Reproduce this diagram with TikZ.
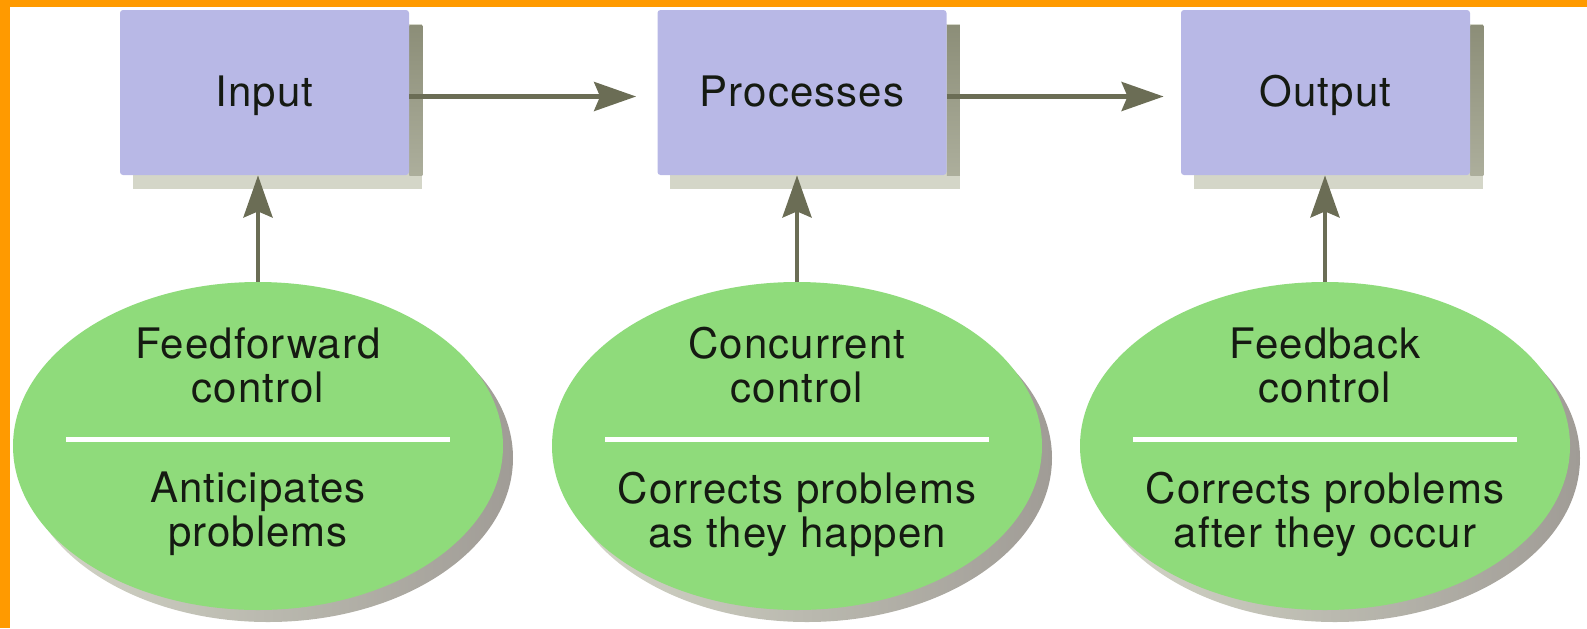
\documentclass[tikz,border=0pt]{standalone}
\usepackage{fontspec}
\setmainfont{TeX Gyre Heros}[LetterSpace=2.5]
\usetikzlibrary{shapes.geometric,arrows.meta,backgrounds}

\definecolor{boxfill}{HTML}{B8B8E6}
\definecolor{ellfill}{HTML}{8FDB7B}
\definecolor{arrowcol}{HTML}{6B6D55}
\definecolor{frameorange}{HTML}{FF9A00}
\definecolor{shadelight}{HTML}{D4D6C8}
\definecolor{shadedark}{HTML}{8C8E78}
\definecolor{ellshade}{HTML}{A09C96}
\definecolor{textcol}{HTML}{151A12}

\tikzset{
  stage/.style={rectangle, fill=boxfill, rounded corners=1.5pt, minimum width=144.5pt,
    minimum height=82.5pt, inner sep=0pt, text height=18pt, text depth=4pt,
    font=\fontsize{21}{22}\selectfont, text=textcol},
  control/.style={ellipse, fill=ellfill, minimum width=245pt, minimum height=164pt, inner sep=0pt},
  ctltext/.style={align=center, font=\fontsize{21}{22}\selectfont, text=textcol, inner sep=0pt},
  flow/.style={->, line width=2.2pt, draw=arrowcol},
}

\begin{document}
\begin{tikzpicture}[x=0.5pt, y=-0.5pt, >={Stealth[length=21pt,width=14.5pt,inset=3pt]}]
\useasboundingbox (0,0) rectangle (1587,628);
\fill[frameorange] (0,0) rectangle (1587,7);
\fill[frameorange] (0,0) rectangle (10,628);

% the three stages
\node[stage] (inputbox) at (264.5,92.5) {Input};
\node[stage] (procbox) at (802,92.5) {Processes};
\node[stage] (outbox) at (1325.5,92.5) {Output};

% the three kinds of control
\foreach \n/\x in {ffctl/258, concctl/797, fbctl/1325}
  \node[control] (\n) at (\x,446) {};

\foreach \n/\top/\bot in {ffctl/{Feedforward\\control}/{Anticipates\\problems},
    concctl/{Concurrent\\control}/{Corrects problems\\as they happen},
    fbctl/{Feedback\\control}/{Corrects problems\\after they occur}} {
  \node[ctltext] (\n-top) at ([yshift=40.5pt]\n.center) {\top};
  \node[ctltext] (\n-bot) at ([yshift=-34pt]\n.center) {\bot};
  \draw[white, line width=2.5pt] ([shift={(-96pt,3.5pt)}]\n.center) -- ([shift={(96pt,3.5pt)}]\n.center);
}

% shadows
\begin{scope}[on background layer]
\foreach \n in {inputbox,procbox,outbox} {
  \fill[shadelight] ([shift={(6.5pt,-7pt)}]\n.south west) rectangle ([shift={(6.5pt,-7pt)}]\n.north east);
  \shade[top color=shadedark, bottom color=shadedark!55!shadelight]
    ([yshift=-8pt]\n.north east) rectangle ([xshift=6.5pt]\n.south east);
}
\foreach \n in {ffctl,concctl,fbctl}
  \shade[left color=shadelight, right color=ellshade] ([shift={(5pt,-6pt)}]\n.center) ellipse (122.5pt and 82pt);
\end{scope}

% arrows
\draw[flow, shorten >=10.5pt] ([yshift=-2pt]inputbox.east) -- ([yshift=-2pt]procbox.west);
\draw[flow, shorten >=8.5pt] ([yshift=-2pt]procbox.east) -- ([yshift=-2pt]outbox.west);
\draw[flow] (ffctl.north) -- (ffctl.north |- inputbox.south);
\draw[flow] (concctl.north) -- (concctl.north |- procbox.south);
\draw[flow] (fbctl.north) -- (fbctl.north |- outbox.south);

\end{tikzpicture}
\end{document}
